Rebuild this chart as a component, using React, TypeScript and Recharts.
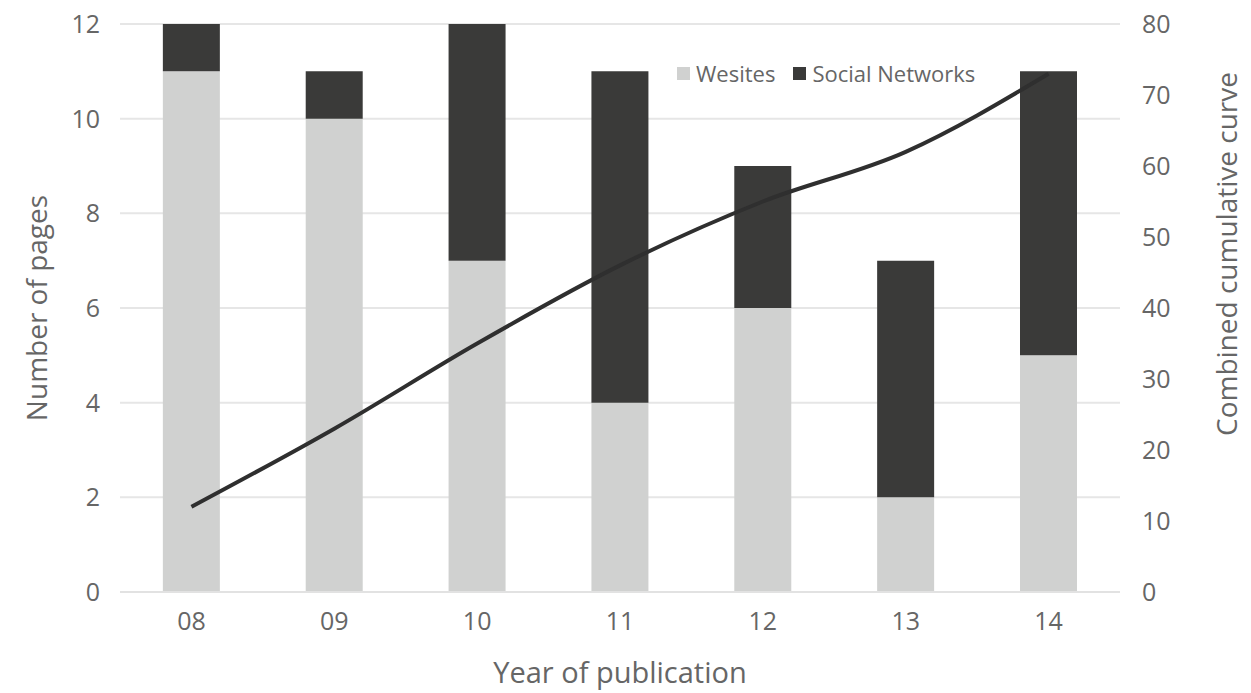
import React from "react";
import {
  ComposedChart,
  Bar,
  Line,
  XAxis,
  YAxis,
  CartesianGrid,
  Legend,
  Label,
} from "recharts";

const years = ["08", "09", "10", "11", "12", "13", "14"];
const websites = [11, 10, 7, 4, 6, 2, 5];
const socialNetworks = [1, 1, 5, 7, 3, 5, 6];
const cumulative = [12, 23, 35, 46, 55, 62, 73];
const leftTicks = [0, 2, 4, 6, 8, 10, 12];
const rightTicks = [0, 10, 20, 30, 40, 50, 60, 70, 80];
const legendItems = [
  { label: "Wesites", color: "#d0d1d0" },
  { label: "Social Networks", color: "#3a3a39" },
];

const data = years.map((y, i) => ({
  year: y,
  websites: websites[i],
  social: socialNetworks[i],
  cumulative: cumulative[i],
}));

const FONT = "'Open Sans', sans-serif";
const TXT = "#666666";

const LegendContent = () => (
  <div style={{ display: "flex", alignItems: "center", fontFamily: FONT }}>
    {legendItems.map((it, i) => (
      <div
        key={it.label}
        style={{ display: "flex", alignItems: "center", marginRight: i === 0 ? 18 : 0 }}
      >
        <span
          style={{
            display: "inline-block",
            width: 13,
            height: 13,
            background: it.color,
            marginRight: 6,
          }}
        />
        <span style={{ color: TXT, fontSize: 22, lineHeight: "26px" }}>{it.label}</span>
      </div>
    ))}
  </div>
);

export default function App() {
  return (
    <div style={{ position: "absolute", left: 0, top: 0, background: "#fff" }}>
      <ComposedChart
        width={1251}
        height={693}
        data={data}
        margin={{ top: 24, right: 0, bottom: 1, left: 0 }}
        barCategoryGap="30%"
        style={{ fontFamily: FONT }}
      >
        <CartesianGrid vertical={false} stroke="#e6e6e6" strokeWidth={2} yAxisId="left" />
        <XAxis
          dataKey="year"
          axisLine={{ stroke: "#e2e2e2", strokeWidth: 2 }}
          tickLine={false}
          tickSize={0}
          tickMargin={20}
          height={100}
          tick={{ fill: TXT, fontSize: 25, fontFamily: FONT }}
        >
          <Label
            value="Year of publication"
            position="insideBottom"
            offset={9}
            style={{ fill: TXT, fontSize: 29, fontFamily: FONT }}
          />
        </XAxis>
        <YAxis
          yAxisId="left"
          domain={[0, 12]}
          ticks={leftTicks}
          axisLine={false}
          tickLine={false}
          tickSize={0}
          tickMargin={20}
          width={120}
          tick={{ fill: TXT, fontSize: 25, fontFamily: FONT }}
        >
          <Label
            value="Number of pages"
            angle={-90}
            position="center"
            dx={-23}
            style={{ fill: TXT, fontSize: 28, fontFamily: FONT, textAnchor: "middle" }}
          />
        </YAxis>
        <YAxis
          yAxisId="right"
          orientation="right"
          domain={[0, 80]}
          ticks={rightTicks}
          axisLine={false}
          tickLine={false}
          tickSize={0}
          tickMargin={22}
          width={131}
          tick={{ fill: TXT, fontSize: 25, fontFamily: FONT }}
        >
          <Label
            value="Combined cumulative curve"
            angle={-90}
            position="center"
            dx={42}
            dy={-54}
            style={{ fill: TXT, fontSize: 28, fontFamily: FONT, textAnchor: "middle" }}
          />
        </YAxis>
        <Legend
          verticalAlign="middle"
          align="center"
          layout="horizontal"
          content={<LegendContent />}
          wrapperStyle={{ position: "absolute", left: 677, top: 60, width: "auto", height: "auto" }}
        />
        <Bar
          yAxisId="left"
          dataKey="websites"
          name="Wesites"
          stackId="a"
          fill="#d0d1d0"
          isAnimationActive={false}
        />
        <Bar
          yAxisId="left"
          dataKey="social"
          name="Social Networks"
          stackId="a"
          fill="#3a3a39"
          isAnimationActive={false}
        />
        <Line
          yAxisId="right"
          dataKey="cumulative"
          type="monotone"
          stroke="#2f2f2f"
          strokeWidth={4}
          dot={false}
          legendType="none"
          isAnimationActive={false}
        />
      </ComposedChart>
    </div>
  );
}
